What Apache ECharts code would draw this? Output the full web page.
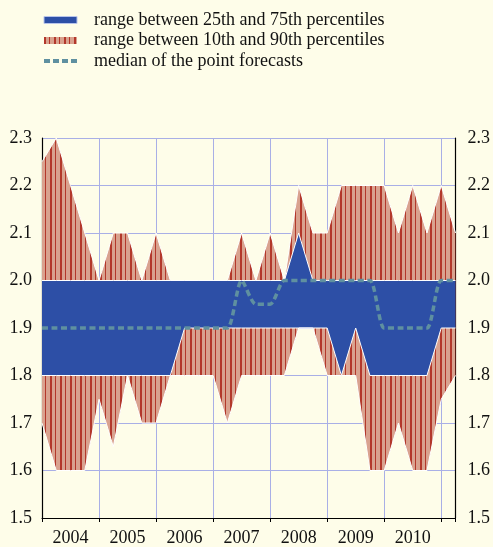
<!DOCTYPE html>
<html>
<head>
<meta charset="utf-8">
<script src="https://cdn.jsdelivr.net/npm/echarts@6/dist/echarts.min.js"></script>
<style>
  html, body { margin: 0; padding: 0; background: #fefde9; }
  #main { width: 493px; height: 547px; }
</style>
</head>
<body>
<div id="main"></div>
<script>
// survey rounds, quarterly (2004Q1 .. 2011Q2)
var quarters = ['2004Q1', '2004Q2', '2004Q3', '2004Q4', '2005Q1', '2005Q2', '2005Q3', '2005Q4',
                '2006Q1', '2006Q2', '2006Q3', '2006Q4', '2007Q1', '2007Q2', '2007Q3', '2007Q4',
                '2008Q1', '2008Q2', '2008Q3', '2008Q4', '2009Q1', '2009Q2', '2009Q3', '2009Q4',
                '2010Q1', '2010Q2', '2010Q3', '2010Q4', '2011Q1', '2011Q2'];
var p10 = [1.7, 1.6, 1.6, 1.6, 1.75, 1.65, 1.8, 1.7, 1.7, 1.8,
           1.8, 1.8, 1.8, 1.7, 1.8, 1.8, 1.8, 1.8, 1.9, 1.9,
           1.8, 1.8, 1.8, 1.6, 1.6, 1.7, 1.6, 1.6, 1.75, 1.8];
var p25 = [1.8, 1.8, 1.8, 1.8, 1.8, 1.8, 1.8, 1.8, 1.8, 1.8,
           1.9, 1.9, 1.9, 1.9, 1.9, 1.9, 1.9, 1.9, 1.9, 1.9,
           1.9, 1.8, 1.9, 1.8, 1.8, 1.8, 1.8, 1.8, 1.9, 1.9];
var p75 = [2.0, 2.0, 2.0, 2.0, 2.0, 2.0, 2.0, 2.0, 2.0, 2.0,
           2.0, 2.0, 2.0, 2.0, 2.0, 2.0, 2.0, 2.0, 2.1, 2.0,
           2.0, 2.0, 2.0, 2.0, 2.0, 2.0, 2.0, 2.0, 2.0, 2.0];
var p90 = [2.25, 2.3, 2.2, 2.1, 2.0, 2.1, 2.1, 2.0, 2.1, 2.0,
           2.0, 2.0, 2.0, 2.0, 2.1, 2.0, 2.1, 2.0, 2.2, 2.1,
           2.1, 2.2, 2.2, 2.2, 2.2, 2.1, 2.2, 2.1, 2.2, 2.1];
var median = [1.9, 1.9, 1.9, 1.9, 1.9, 1.9, 1.9, 1.9, 1.9, 1.9,
              1.9, 1.9, 1.9, 1.9, 2.0, 1.95, 1.95, 2.0, 2.0, 2.0,
              2.0, 2.0, 2.0, 2.0, 1.9, 1.9, 1.9, 1.9, 2.0, 2.0];
// year labels sit in the middle of each year
var yearLabelPos = [2004.5, 2005.5, 2006.5, 2007.5, 2008.5, 2009.5, 2010.5];

var names = ['range between 25th and 75th percentiles',
             'range between 10th and 90th percentiles',
             'median of the point forecasts'];

var blue = '#2d4fa6';
var medianColor = '#5f90a0';
var gridColor = '#a9afe6';
var font = "'Liberation Serif', 'DejaVu Serif', 'Times New Roman', serif";

// striped fill for the 10-90 band
var tile = document.createElement('canvas');
tile.width = 10; tile.height = 10;
var tc = tile.getContext('2d');
tc.fillStyle = '#d9a28f';
tc.fillRect(0, 0, 10, 10);
tc.fillStyle = '#b3382b';
tc.fillRect(0, 0, 2, 10);
tc.fillRect(5, 0, 1, 10);
var stripes = { image: tile, repeat: 'repeat' };

function diff(hi, lo) {
    return hi.map(function (v, i) { return +(v - lo[i]).toFixed(3); });
}

var myChart = echarts.init(document.getElementById('main'));

option = {
    backgroundColor: '#fefde9',
    animation: false,
    textStyle: { fontFamily: font },
    legend: {
        orient: 'vertical',
        left: 42,
        top: 11,
        padding: 0,
        itemWidth: 33,
        itemHeight: 7,
        itemGap: 2.5,
        textStyle: { fontFamily: font, fontSize: 18, color: '#111', lineHeight: 18, padding: [0, 0, 0, 12] },
        data: [
            { name: names[0], icon: 'rect', itemStyle: { color: blue, borderColor: '#b8c4ea', borderWidth: 1 } },
            { name: names[1], icon: 'rect', itemStyle: { color: stripes } },
            { name: names[2], itemStyle: { opacity: 0 }, lineStyle: { width: 4, type: [6, 3] } }
        ]
    },
    grid: {
        left: 42,
        right: 35,
        top: 138,
        bottom: 29
    },
    xAxis: [
        {
            type: 'category',
            data: quarters,
            boundaryGap: false,
            show: false
        },
        {
            type: 'value',
            position: 'bottom',
            min: 2004,
            max: 2011.25,
            interval: 1,
            axisLine: { lineStyle: { color: '#000', width: 1.2 } },
            axisTick: { show: true, length: 4, lineStyle: { color: '#000' } },
            axisLabel: {
                customValues: yearLabelPos,
                formatter: function (v) { return String(Math.floor(v)); },
                fontFamily: font, fontSize: 18, color: '#111', margin: 11
            },
            splitLine: { show: true, lineStyle: { color: gridColor, width: 1 } }
        }
    ],
    yAxis: [
        {
            type: 'value',
            position: 'left',
            min: 1.5,
            max: 2.3,
            interval: 0.1,
            axisLine: { show: true, lineStyle: { color: '#000', width: 1.2 } },
            axisTick: { show: false },
            axisLabel: {
                formatter: function (v) { return v.toFixed(1); },
                fontFamily: font, fontSize: 18, color: '#111', margin: 10
            },
            splitLine: { show: true, lineStyle: { color: gridColor, width: 1 } }
        },
        {
            type: 'value',
            position: 'right',
            min: 1.5,
            max: 2.3,
            interval: 0.1,
            axisLine: { show: true, lineStyle: { color: '#000', width: 1.2 } },
            axisTick: { show: false },
            axisLabel: {
                formatter: function (v) { return v.toFixed(1); },
                fontFamily: font, fontSize: 18, color: '#111', margin: 12
            },
            splitLine: { show: false }
        }
    ],
    series: [
        {
            name: 'p10',
            type: 'line',
            stack: 'outer',
            symbol: 'none',
            silent: true,
            lineStyle: { color: '#fff', width: 1 },
            data: p10
        },
        {
            name: names[1],
            type: 'line',
            stack: 'outer',
            symbol: 'none',
            color: '#c8604f',
            lineStyle: { color: '#fff', width: 1 },
            areaStyle: { color: stripes, opacity: 1 },
            data: diff(p90, p10)
        },
        {
            name: 'p25',
            type: 'line',
            stack: 'inner',
            symbol: 'none',
            silent: true,
            lineStyle: { color: '#fff', width: 1 },
            data: p25
        },
        {
            name: names[0],
            type: 'line',
            stack: 'inner',
            symbol: 'none',
            color: blue,
            lineStyle: { color: '#fff', width: 1 },
            areaStyle: { color: blue, opacity: 1 },
            data: diff(p75, p25)
        },
        {
            name: names[2],
            type: 'line',
            symbol: 'none',
            smooth: 0.25,
            color: medianColor,
            lineStyle: { color: medianColor, width: 3.5, type: [6, 3.5] },
            z: 5,
            data: median
        }
    ]
};

myChart.setOption(option);
</script>
</body>
</html>
